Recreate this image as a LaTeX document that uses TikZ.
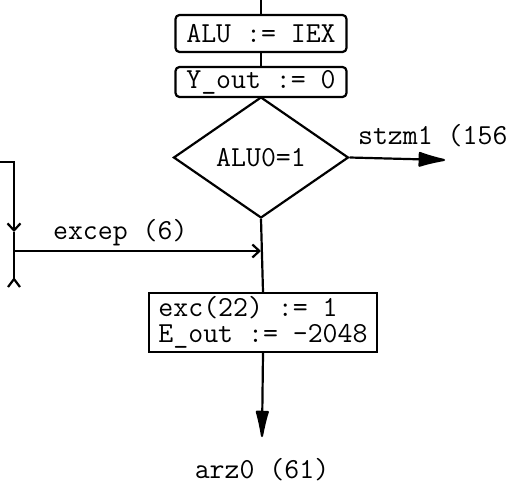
\documentclass[tikz,border=0pt]{standalone}
\usepackage{fontspec}
\usetikzlibrary{shapes.geometric,arrows.meta}
\begin{document}
\begin{tikzpicture}[x=1pt,y=-1pt,line width=2.2pt,
  txt/.style={font=\fontsize{29}{26}\selectfont\ttfamily\addfontfeatures{FakeBold=1.5},inner sep=0pt},
  rbox/.style={draw,rectangle,rounded corners=4pt,txt,minimum width=171pt},
  sbox/.style={draw,rectangle,txt,align=left,inner xsep=7pt,minimum width=228pt,minimum height=59pt},
  test/.style={draw,diamond,txt,minimum width=175pt,minimum height=121pt},
  barb/.style={-{Straight Barb[length=7pt,width=13pt]}},
  fat/.style={-{Latex[length=32pt,width=16pt,round]}},
  fatdown/.style={-{Latex[length=33pt,width=14pt,round]}}]
\useasboundingbox (0,0) rectangle (509,484);

% main column
\coordinate (top) at (261,0);
\node[rbox,minimum height=37pt] (alu) at (261,33.5) {ALU := IEX};
\node[rbox,minimum height=30pt] (yout) at (261,82) {Y\_out := 0};
\node[test] (dec) at (261,157.5) {ALU0=1};
\node[sbox] (exc) at (263,322.5) {exc(22) := 1\\E\_out := -2048};
\coordinate (tip) at (262,437);
\node[txt,anchor=base] (arz) at (262,478) {arz0 (61)};

% exit to the right
\coordinate (rtip) at (445,160);
\node[txt,anchor=base west] (stzm) at (357,145) {stzm1 (156};

% incoming branch on the left
\coordinate (lin) at (0,162);
\coordinate (ymid) at (14,232);
\coordinate (jl) at (14,251);
\coordinate (lb) at (14,279);
\coordinate (jr) at (dec.south |- jl);
\node[txt,anchor=base west] (excep) at (52,240) {excep (6)};

% connectors
\draw (top) -- (alu.north);
\draw (alu.south) -- (yout.north);
\draw (yout.south) -- (dec.north);
\draw[fat] (dec.east) -- (rtip);
\draw (dec.south) -- (exc.north);
\draw[fatdown] (exc.south) -- (tip);
\draw[barb] (lin) -| (ymid);
\draw (ymid) -- (lb);
\draw (lb) -- ++(-6,8) (lb) -- ++(6,8);
\draw[barb] (jl) -- (jr);
\end{tikzpicture}
\end{document}
